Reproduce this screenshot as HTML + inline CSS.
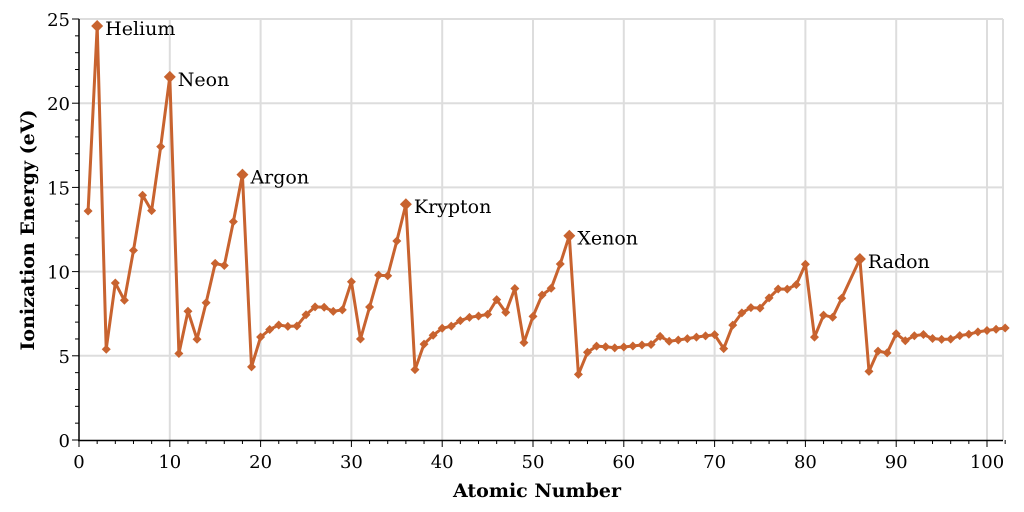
<!DOCTYPE html>
<html><head><meta charset="utf-8"><style>
html,body{margin:0;padding:0;background:#fff;}
svg{display:block;}
text{font-family:"DejaVu Serif","Liberation Serif",serif;}
</style></head><body>
<svg id="s" width="1024" height="512" xmlns="http://www.w3.org/2000/svg"></svg>
<script>
(function(){
var d=[13.598,24.587,5.392,9.323,8.298,11.26,14.534,13.618,17.423,21.565,5.139,7.646,5.986,8.152,10.487,10.36,12.968,15.76,4.341,6.113,6.561,6.828,6.746,6.767,7.434,7.902,7.881,7.64,7.726,9.394,5.999,7.9,9.789,9.752,11.814,14.0,4.177,5.695,6.217,6.634,6.759,7.092,7.28,7.361,7.459,8.337,7.576,8.994,5.786,7.344,8.608,9.01,10.451,12.13,3.894,5.212,5.577,5.539,5.473,5.525,5.582,5.644,5.67,6.15,5.864,5.939,6.022,6.108,6.184,6.254,5.426,6.825,7.55,7.864,7.834,8.438,8.967,8.959,9.226,10.438,6.108,7.417,7.286,8.417,null,10.749,4.073,5.278,5.17,6.307,5.89,6.194,6.266,6.026,5.974,5.991,6.198,6.282,6.42,6.5,6.58,6.65];
function X(z){return 79+z*9.08;} function Y(v){return 440-v*16.84;}
var h='';
var T=Y(25), R=1003;
for(var i=10;i<=100;i+=10)h+='<line x1="'+X(i)+'" y1="'+T+'" x2="'+X(i)+'" y2="440" stroke="#ddd" stroke-width="2"/>';
for(var v=5;v<=25;v+=5)h+='<line x1="79" y1="'+Y(v)+'" x2="'+R+'" y2="'+Y(v)+'" stroke="#ddd" stroke-width="2"/>';
h+='<line x1="'+R+'" y1="'+T+'" x2="'+R+'" y2="440" stroke="#ddd" stroke-width="2"/>';
h+='<line x1="79" y1="'+T+'" x2="79" y2="441" stroke="#000" stroke-width="1.5"/><line x1="78" y1="440.5" x2="'+R+'" y2="440.5" stroke="#000" stroke-width="1.5"/>';
for(var v=0;v<=25;v++){var l=v%5==0?7:4;h+='<line x1="'+(79-l)+'" y1="'+Y(v)+'" x2="79" y2="'+Y(v)+'" stroke="#000"/>';if(v%5==0)h+='<text x="70" y="'+(Y(v)+7)+'" font-size="18" text-anchor="end">'+v+'</text>';}
for(var z=0;z<=102;z+=2){var l2=z%10==0?7:4;h+='<line x1="'+X(z)+'" y1="440" x2="'+X(z)+'" y2="'+(440+l2)+'" stroke="#000"/>';if(z%10==0)h+='<text x="'+X(z)+'" y="468" font-size="18" text-anchor="middle">'+z+'</text>';}
var p='',m='';
var big=[2,10,18,36,54,86];
for(var k=0;k<d.length;k++){var val=d[k];if(val==null)continue;var x=X(k+1),y=Y(val);p+=(p?'L':'M')+x.toFixed(1)+' '+y.toFixed(1);var r=big.indexOf(k+1)>=0?6:4.5;m+='<path d="M'+x+' '+(y-r)+'L'+(x+r)+' '+y+'L'+x+' '+(y+r)+'L'+(x-r)+' '+y+'Z" fill="#c8632f"/>';}
h+='<path d="'+p+'" fill="none" stroke="#c8632f" stroke-width="3" stroke-linejoin="round"/>'+m;
var lab=[[2,'Helium'],[10,'Neon'],[18,'Argon'],[36,'Krypton'],[54,'Xenon'],[86,'Radon']];
for(var q=0;q<lab.length;q++){var zz=lab[q][0];h+='<text x="'+(X(zz)+8)+'" y="'+(Y(d[zz-1])+9)+'" font-size="19">'+lab[q][1]+'</text>';}
h+='<text x="537" y="497" font-size="19" font-weight="bold" text-anchor="middle">Atomic Number</text>';
h+='<text transform="translate(34 230) rotate(-90)" font-size="19" font-weight="bold" text-anchor="middle">Ionization Energy (eV)</text>';
document.getElementById('s').innerHTML=h;
})();
</script>
</body></html>
